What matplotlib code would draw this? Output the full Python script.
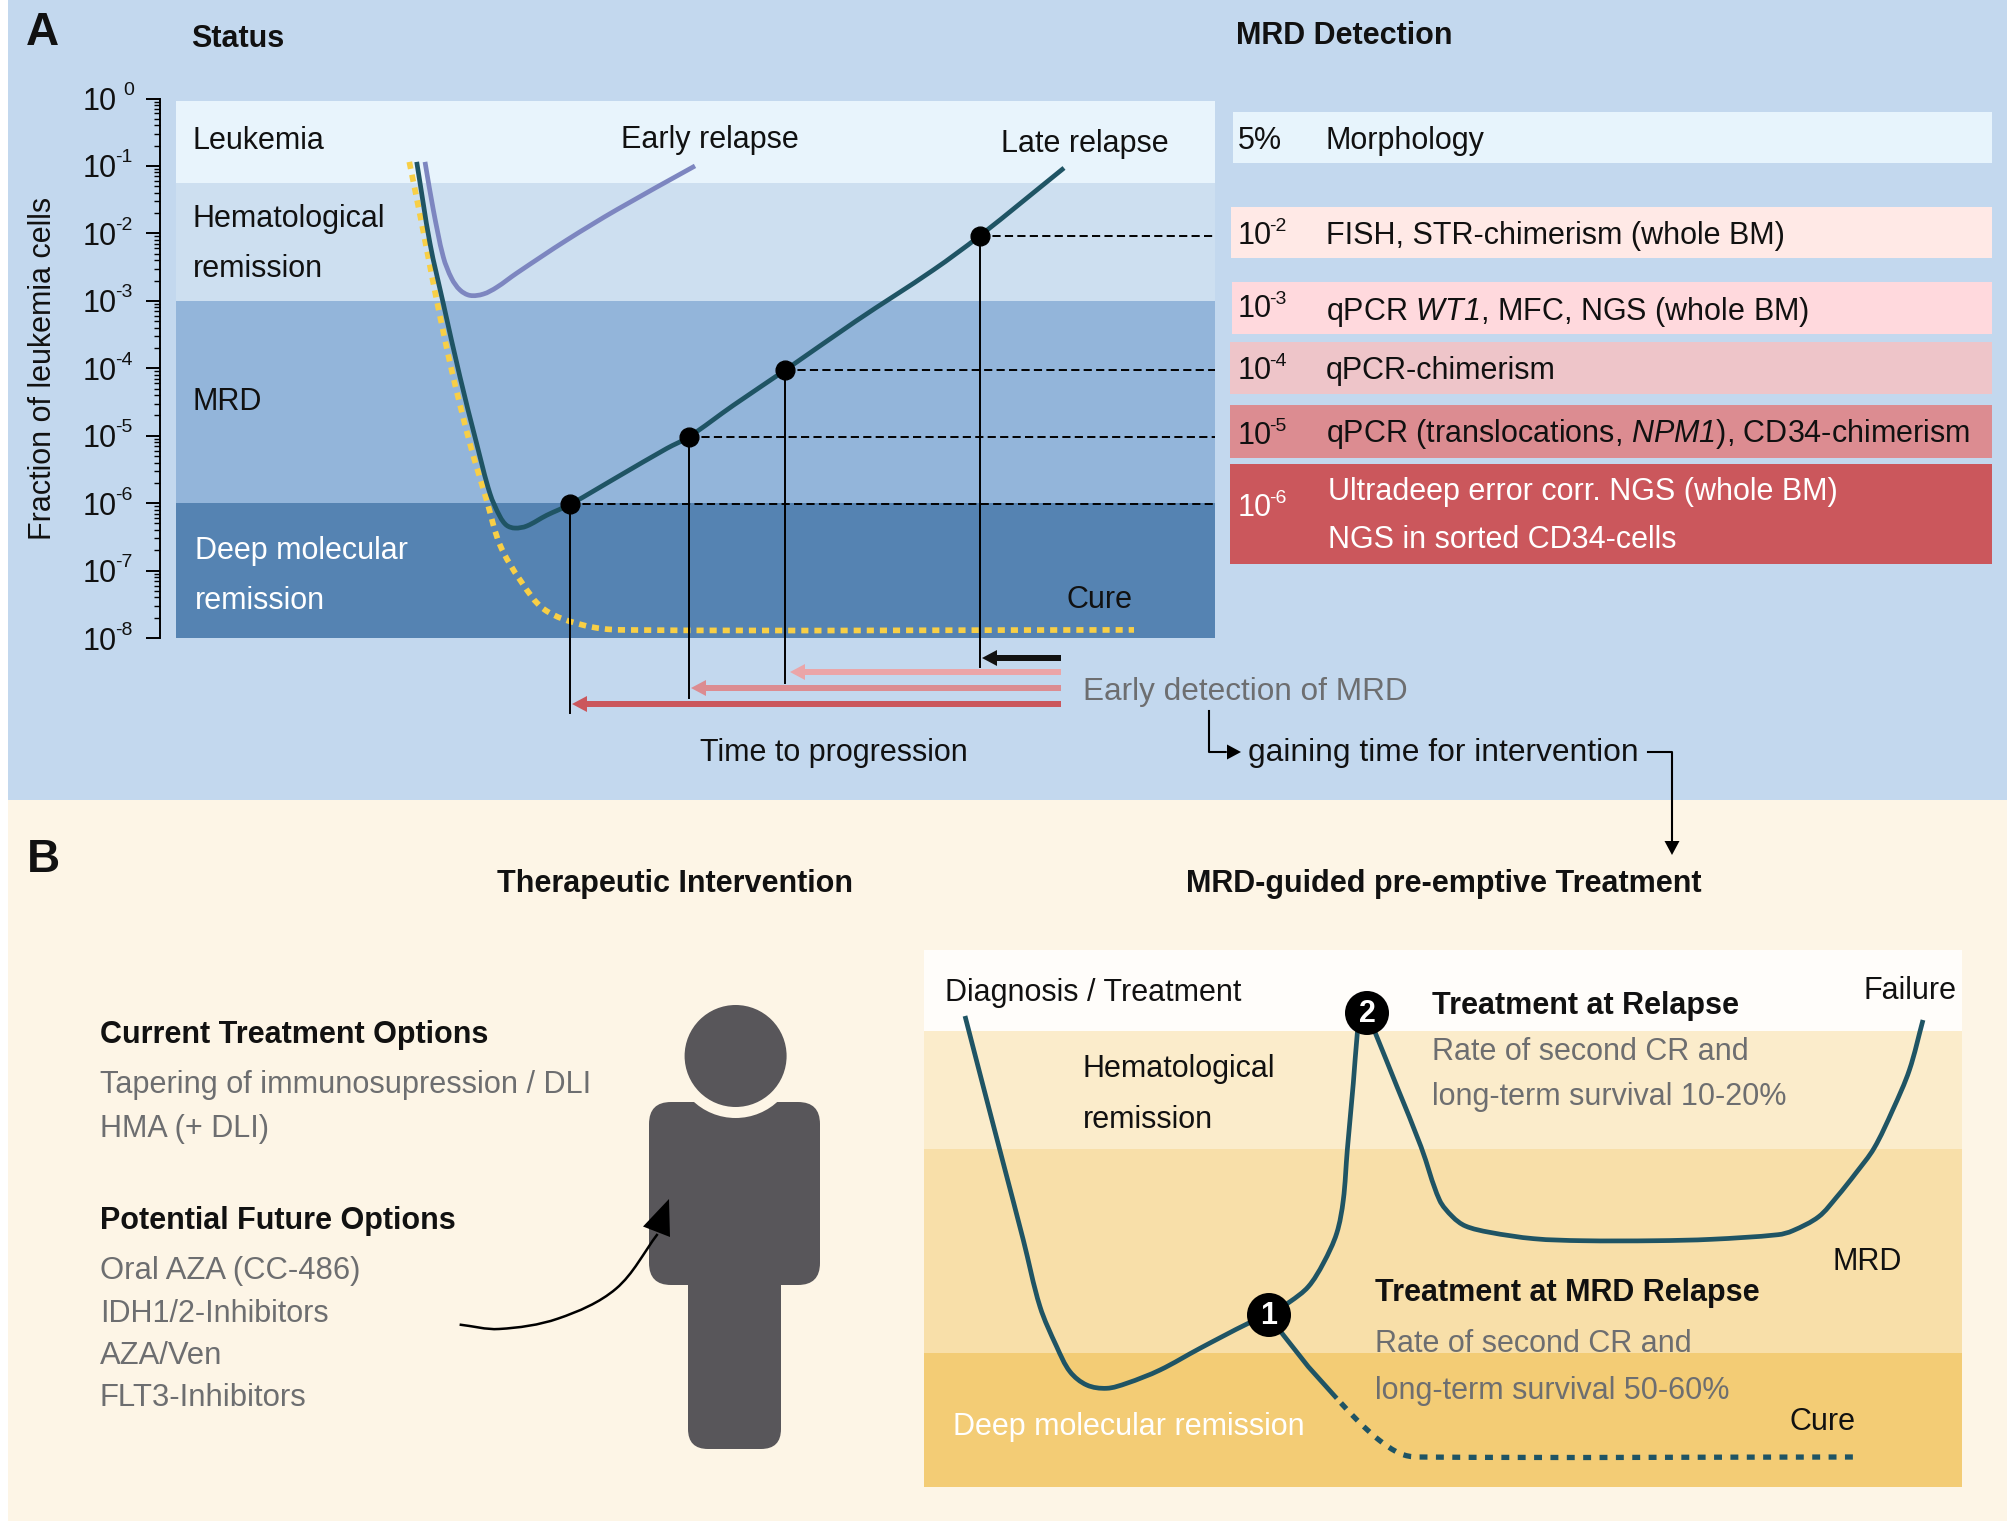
import numpy as np
import matplotlib
matplotlib.use('Agg')
import matplotlib.pyplot as plt
from matplotlib.patches import Rectangle, Circle, FancyBboxPatch, FancyArrow, Polygon, PathPatch
from matplotlib.path import Path

plt.rcParams['font.family'] = ['Liberation Sans', 'DejaVu Sans']
plt.rcParams['mathtext.fontset'] = 'custom'
plt.rcParams['mathtext.rm'] = 'Liberation Sans'
plt.rcParams['mathtext.it'] = 'Liberation Sans:italic'
plt.rcParams['mathtext.cal'] = 'Liberation Sans:italic'
plt.rcParams['mathtext.bf'] = 'Liberation Sans:bold'

BLACK = '#111111'
GRAY = '#6d6e70'
TEAL = '#1f5464'

# panel A, curves: time position and log10 of the leukemia fraction
main_t = [416.7, 430, 443.3, 460, 476.7, 490, 500, 506.7, 515, 526.7, 546.7, 570, 620, 666.7, 688.7, 733.3, 785, 856, 933.6, 979.5, 1064]
main_e = [-0.94, -2.15, -3.04, -4.13, -5.12, -5.86, -6.20, -6.33, -6.37, -6.34, -6.18, -6.02, -5.59, -5.19, -5.02, -4.55, -4.03, -3.3, -2.54, -2.04, -1.03]
early_t = [425, 433.3, 443.3, 451.7, 460, 470, 483.3, 496.7, 516.7, 566.7, 616.7, 695]
early_e = [-0.94, -1.65, -2.35, -2.67, -2.84, -2.92, -2.90, -2.80, -2.59, -2.10, -1.65, -1.0]
cure_t = [409.3, 421.7, 436, 451.7, 470, 486.7, 500, 521, 544.6, 583.5, 622, 1134]
cure_e = [-0.94, -1.85, -2.94, -4.03, -5.12, -5.96, -6.62, -7.16, -7.58, -7.81, -7.88, -7.88]
point_t = [570, 688.7, 785, 979.5]
point_e = [-6.02, -5.02, -4.03, -2.04]
drop_e = [-9.11, -8.89, -8.67, -8.43]
band_edges = [-0.03, -1.25, -3, -6, -8]
band_colors = ['#e8f4fc', '#cddff0', '#93b5da', '#5583b2']
tick_exps = [0, -1, -2, -3, -4, -5, -6, -7, -8]

# panel A, detection table
det_rows = ['5%', '-2', '-3', '-4', '-5', '-6']
det_top = [112, 207, 282, 342, 405, 464]
det_bot = [163, 258, 334, 394, 458, 564]
det_left = [1233, 1231, 1232, 1230, 1230, 1230]
det_colors = ['#e7f4fc', '#ffe9e6', '#ffd9dd', '#eec5c9', '#dc8c91', '#cb575c']
det_text = ['Morphology', 'FISH, STR-chimerism (whole BM)', 'qPCR $\\mathcal{WT1}$, MFC, NGS (whole BM)',
            'qPCR-chimerism', 'qPCR (translocations, $\\mathcal{NPM1}$), CD34-chimerism']
det_text_y = [138, 233, 309, 368, 431]
det_exp_y = [138, 233, 306, 368, 433, 505]

# arrows under the chart
arrow_tip = [982, 790, 691, 572]
arrow_y = [658, 672, 688, 704]
arrow_colors = ['#111111', '#eba5a8', '#dc8c91', '#cb575c']

# panel B, curves
rise_x = [965, 983.3, 1003.3, 1023.3, 1040, 1056.7, 1070, 1086.7, 1106.7, 1126.7, 1160, 1200, 1248.3, 1268.3, 1290, 1308.3, 1323.3, 1336.7, 1343.3, 1347.3, 1353.3, 1357.3, 1360]
rise_y = [1016, 1086.7, 1163.3, 1240, 1306.7, 1346.7, 1371.7, 1385, 1388.3, 1383.3, 1370, 1348.3, 1323.3, 1315, 1301.7, 1286.7, 1263.3, 1233.3, 1200, 1150, 1083.3, 1033.3, 1013]
fall_x = [1367, 1374.8, 1397, 1421, 1439.5, 1452.5, 1465.4, 1489.5, 1533.9, 1582, 1656, 1711.5, 1778, 1792.8, 1818.7, 1837, 1855.7, 1874, 1892.7, 1909.4, 1923]
fall_y = [1013, 1031.7, 1086.7, 1146.7, 1200, 1216.7, 1226, 1232.3, 1238.7, 1240.7, 1240.7, 1239.3, 1234.7, 1230.7, 1216.7, 1196.7, 1173.3, 1148.3, 1110, 1070, 1020]
mrd_x = [1268.3, 1283.3, 1308.3, 1336.7]
mrd_y = [1315, 1335, 1366.7, 1398.3]
mrd_dot_x = [1341, 1358, 1379, 1400, 1417.5, 1855]
mrd_dot_y = [1403, 1421, 1440, 1453.5, 1457, 1457]
b_edges = [950, 1031, 1149, 1353, 1487]
b_colors = ['#fffdfa', '#fbeccb', '#f8dfa9', '#f3cc75']
badge_x = [1269, 1367]
badge_y = [1315, 1013]
badge_text = ['1', '2']

# bent arrow to the person
bend_x = [459.6, 499, 558, 616, 657.6]
bend_y = [1324.6, 1329, 1318.6, 1288.7, 1234]

# plain labels: x, y, text, colour, bold
labels = [
    (191, 36, 'Status', BLACK, True),
    (1236, 33, 'MRD Detection', BLACK, True),
    (193, 138, 'Leukemia', BLACK, False),
    (193, 216, 'Hematological', BLACK, False),
    (193, 266, 'remission', BLACK, False),
    (193, 399, 'MRD', BLACK, False),
    (195, 548, 'Deep molecular', 'white', False),
    (195, 598, 'remission', 'white', False),
    (621, 137, 'Early relapse', BLACK, False),
    (1001, 141, 'Late relapse', BLACK, False),
    (1067, 597, 'Cure', BLACK, False),
    (1083, 689, 'Early detection of MRD', GRAY, False),
    (700, 750, 'Time to progression', BLACK, False),
    (1248, 750, 'gaining time for intervention', BLACK, False),
    (497, 881, 'Therapeutic Intervention', BLACK, True),
    (1186, 881, 'MRD-guided pre-emptive Treatment', BLACK, True),
    (100, 1033, 'Current Treatment Options', BLACK, True),
    (100, 1083, 'Tapering of immunosupression / DLI', GRAY, False),
    (100, 1126, 'HMA (+ DLI)', GRAY, False),
    (100, 1218, 'Potential Future Options', BLACK, True),
    (100, 1268, 'Oral AZA (CC-486)', GRAY, False),
    (100, 1311, 'IDH1/2-Inhibitors', GRAY, False),
    (100, 1354, 'AZA/Ven', GRAY, False),
    (100, 1396, 'FLT3-Inhibitors', GRAY, False),
    (945, 990, 'Diagnosis / Treatment', BLACK, False),
    (1864, 988, 'Failure', BLACK, False),
    (1432, 1003, 'Treatment at Relapse', BLACK, True),
    (1432, 1049, 'Rate of second CR and', GRAY, False),
    (1432, 1095, 'long-term survival 10-20%', GRAY, False),
    (1083, 1067, 'Hematological', BLACK, False),
    (1083, 1117, 'remission', BLACK, False),
    (1833, 1259, 'MRD', BLACK, False),
    (1375.5, 1291, 'Treatment at MRD Relapse', BLACK, True),
    (1375.5, 1341, 'Rate of second CR and', GRAY, False),
    (1375.5, 1388, 'long-term survival 50-60%', GRAY, False),
    (953, 1424, 'Deep molecular remission', 'white', False),
    (1790, 1420, 'Cure', BLACK, False),
]
# a few labels run wider than the rest
wide_labels = {'gaining time for intervention': 22.9, 'Early detection of MRD': 22.7,
               'Tapering of immunosupression / DLI': 22.1, 'Oral AZA (CC-486)': 22.3,
               'FLT3-Inhibitors': 22.4, 'AZA/Ven': 22.3}

W, H = 2008, 1523
FS = 22
DY = 2.5  # text sits a little lower than its box centre

def px_axes(zorder):
    a = fig.add_axes([0, 0, 1, 1], zorder=zorder)
    a.set_xlim(0, W)
    a.set_ylim(H, 0)
    a.axis('off')
    a.patch.set_alpha(0)
    return a

def smooth_path(x, y, yscale=1.0):
    # bezier through the read points, handles a third of each segment long
    p = np.column_stack([x, np.array(y, dtype=float) * yscale])
    tang = np.zeros_like(p)
    tang[1:-1] = p[2:] - p[:-2]
    tang[0] = p[1] - p[0]
    tang[-1] = p[-1] - p[-2]
    tang /= np.linalg.norm(tang, axis=1, keepdims=True)
    seg = np.linalg.norm(np.diff(p, axis=0), axis=1)
    verts = [p[0]]
    codes = [Path.MOVETO]
    for i in range(len(seg)):
        verts += [p[i] + tang[i] * seg[i] / 3, p[i + 1] - tang[i + 1] * seg[i] / 3, p[i + 1]]
        codes += [Path.CURVE4] * 3
    return np.array(verts) / [1.0, yscale], codes

def draw_curve(a, x, y, color, lw, ls='-', zorder=3):
    v, c = smooth_path(x, y)
    a.add_patch(PathPatch(Path(v, c), fc='none', ec=color, lw=lw, ls=ls, capstyle='butt', zorder=zorder, clip_on=False))

def draw_log_curve(a, t, e, color, lw, ls='-', zorder=3):
    v, c = smooth_path(t, e, yscale=67.4)
    v[:, 1] = 10.0 ** v[:, 1]
    a.add_patch(PathPatch(Path(v, c), fc='none', ec=color, lw=lw, ls=ls, capstyle='butt', zorder=zorder, clip_on=False))

fig = plt.figure(figsize=(W / 100, H / 100), dpi=100, facecolor='white')
ax_bg = px_axes(0)
ax_top = px_axes(2)

# backgrounds
ax_bg.add_patch(Rectangle((8, 0), W - 8, 800, fc='#c3d8ee', ec='none'))
ax_bg.add_patch(Rectangle((8, 800), W - 8, 721, fc='#fdf5e6', ec='none'))

# chart of panel A
L, R, T, B = 176, 1215, 98.5, 638
ax = fig.add_axes([L / W, 1 - B / H, (R - L) / W, (B - T) / H], zorder=1)
ax.patch.set_alpha(0)
ax.set_yscale('log')
ax.set_xlim(L, R)
ax.set_ylim(1e-8, 1)
for i, c in enumerate(band_colors):
    ax.axhspan(10.0 ** band_edges[i + 1], 10.0 ** band_edges[i], color=c, lw=0, zorder=0)
draw_log_curve(ax, early_t, early_e, '#7d86c0', 3.4, zorder=2)
draw_log_curve(ax, cure_t, cure_e, '#f8cf46', 4.1, ls=(0, (1.25, 1.05)), zorder=2)
draw_log_curve(ax, main_t, main_e, TEAL, 3.4, zorder=3)
for t, e, d in zip(point_t, point_e, drop_e):
    ax.plot([t, R], [10.0 ** e, 10.0 ** e], color='black', lw=1.4, ls=(0, (4.2, 2.2)), zorder=4, clip_on=False)
    ax.plot([t, t], [10.0 ** e, 10.0 ** d], color='black', lw=1.4, zorder=4, clip_on=False)
ax.plot(point_t, 10.0 ** np.array(point_e), 'o', color='black', ms=13.5, zorder=5, clip_on=False)

for s in ['top', 'right', 'bottom']:
    ax.spines[s].set_visible(False)
ax.spines['left'].set_position(('outward', 11.5))
ax.spines['left'].set_linewidth(1.4)
ax.set_xticks([])
ax.set_yticks([10.0 ** e for e in tick_exps])
ax.set_yticklabels(['10'] * len(tick_exps), fontsize=FS, color=BLACK)
ax.yaxis.set_minor_locator(matplotlib.ticker.LogLocator(base=10, subs=np.arange(2, 10) / 10 * 10, numticks=20))
ax.yaxis.set_minor_formatter(matplotlib.ticker.NullFormatter())
ax.tick_params(axis='y', which='major', length=10, width=1.4, pad=21)
ax.tick_params(axis='y', which='minor', length=4.5, width=1)
for e in tick_exps:
    ax_top.text(123 if e == 0 else 115, T + (B - T) * (-e) / 8 - 8, str(e), fontsize=14, ha='left', va='center', color=BLACK)

ax_top.text(43, 368, 'Fraction of leukemia cells', rotation=90, fontsize=FS, ha='center', va='center', color=BLACK)
ax_top.text(26, 30 + DY, 'A', fontsize=33, fontweight='bold', ha='left', va='center', color=BLACK)
ax_top.text(27, 857 + DY, 'B', fontsize=33, fontweight='bold', ha='left', va='center', color=BLACK)

# detection table
for i, row in enumerate(det_rows):
    ax_bg.add_patch(Rectangle((det_left[i], det_top[i]), 1992 - det_left[i], det_bot[i] - det_top[i], fc=det_colors[i], ec='none'))
    col = 'white' if i == 5 else BLACK
    ymid = det_exp_y[i] + DY
    if i == 0:
        ax_top.text(1238, ymid, row, fontsize=FS, ha='left', va='center', color=col)
    else:
        ax_top.text(1238, ymid, '10', fontsize=FS, ha='left', va='center', color=col)
        ax_top.text(1269, ymid - 9, row, fontsize=14, ha='left', va='center', color=col)
    if i < 5:
        ax_top.text(1326, det_text_y[i] + DY, det_text[i], fontsize=FS, ha='left', va='center', color=BLACK)
ax_top.text(1328, 489 + DY, 'Ultradeep error corr. NGS (whole BM)', fontsize=FS, ha='left', va='center', color='white')
ax_top.text(1328, 537 + DY, 'NGS in sorted CD34-cells', fontsize=FS, ha='left', va='center', color='white')

# arrows under the chart
for tip, y, c in zip(arrow_tip, arrow_y, arrow_colors):
    ax_top.add_patch(FancyArrow(1061, y, tip - 1061, 0, width=6, head_width=16, head_length=15,
                                length_includes_head=True, fc=c, ec='none'))
ax_top.plot([1209, 1209, 1225], [711, 752, 752], color='black', lw=1.5)
ax_top.add_patch(FancyArrow(1222, 752, 19, 0, width=1.5, head_width=15, head_length=14,
                            length_includes_head=True, fc='black', ec='none'))
ax_top.plot([1648, 1672, 1672], [752, 752, 842], color='black', lw=1.5)
ax_top.add_patch(FancyArrow(1672, 840, 0, 15, width=1.5, head_width=15, head_length=14,
                            length_includes_head=True, fc='black', ec='none'))

# panel B, chart bands
for i, c in enumerate(b_colors):
    ax_bg.add_patch(Rectangle((924, b_edges[i]), 1962 - 924, b_edges[i + 1] - b_edges[i], fc=c, ec='none'))
draw_curve(ax_top, rise_x, rise_y, TEAL, 3.4)
draw_curve(ax_top, fall_x, fall_y, TEAL, 3.4)
ax_top.plot(mrd_x, mrd_y, color=TEAL, lw=3.4, solid_capstyle='butt')
draw_curve(ax_top, mrd_dot_x, mrd_dot_y, TEAL, 3.8, ls=(0, (1.5, 1.6)))
for x, y, s in zip(badge_x, badge_y, badge_text):
    ax_top.add_patch(Circle((x, y), 22, fc='black', ec='none', zorder=5))
    ax_top.text(x, y + 1, s, color='white', fontsize=22, fontweight='bold', ha='center', va='center', zorder=6)

# person
PERSON = '#58565a'
ax_bg.add_patch(FancyBboxPatch((669, 1122), 131, 143, boxstyle='round,pad=20,rounding_size=22', fc=PERSON, ec='none'))
ax_bg.add_patch(FancyBboxPatch((708, 1270), 53, 159, boxstyle='round,pad=20,rounding_size=20', fc=PERSON, ec='none'))
ax_bg.add_patch(Circle((735.6, 1056), 62, fc='#fdf5e6', ec='none'))
ax_bg.add_patch(Circle((735.6, 1056), 51, fc=PERSON, ec='none'))
draw_curve(ax_top, bend_x, bend_y, 'black', 1.8)
ax_top.add_patch(Polygon([(669, 1199), (643, 1226.5), (670, 1237)], fc='black', ec='none'))

for x, y, s, c, bold in labels:
    ax_top.text(x, y + DY, s, fontsize=wide_labels.get(s, FS), color=c, ha='left', va='center',
                fontweight='bold' if bold else 'normal')

fig.savefig('out.png', dpi=100)
